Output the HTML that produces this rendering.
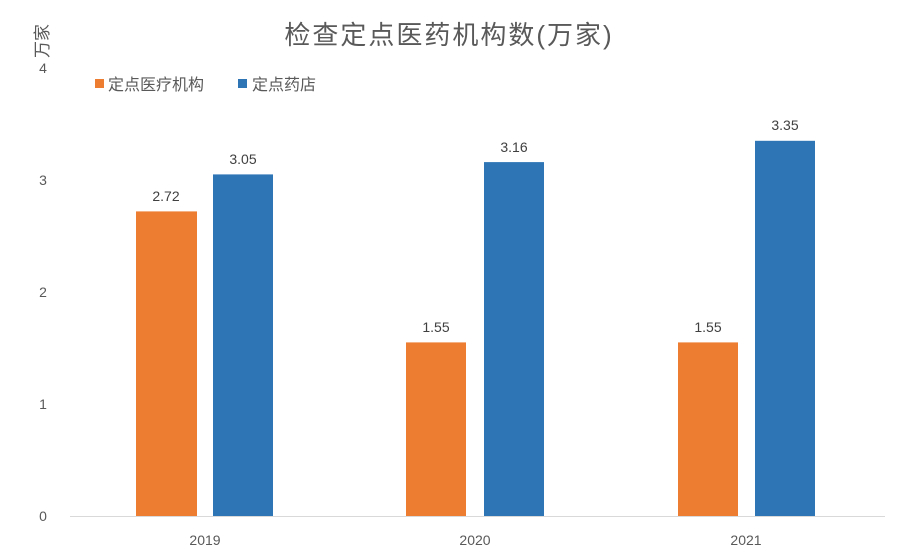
<!DOCTYPE html>
<html><head><meta charset="utf-8"><style>
body{margin:0;background:#fff;}
svg{display:block;font-family:"Liberation Sans","Noto Sans CJK SC",sans-serif;}
</style></head><body>
<svg width="904" height="558" viewBox="0 0 904 558">
<rect width="904" height="558" fill="#fff"/>
<text x="449" y="44" text-anchor="middle" font-size="26" letter-spacing="2" fill="#595959">检查定点医药机构数(万家)</text>
<text transform="translate(48,41) rotate(-90)" text-anchor="middle" font-size="17" fill="#595959">万家</text>
<g font-size="14" fill="#595959" text-anchor="middle">
<text x="43" y="73">4</text><text x="43" y="185">3</text><text x="43" y="297">2</text><text x="43" y="409">1</text><text x="43" y="521">0</text>
<text x="205" y="545">2019</text><text x="475" y="545">2020</text><text x="746" y="545">2021</text>
</g>
<rect x="95" y="79" width="9" height="9" fill="#ED7D31"/>
<text x="108" y="90" font-size="16" fill="#595959">定点医疗机构</text>
<rect x="238" y="79" width="9" height="9" fill="#2E75B6"/>
<text x="252" y="90" font-size="16" fill="#595959">定点药店</text>
<line x1="70" y1="516.5" x2="885" y2="516.5" stroke="#d9d9d9" stroke-width="1"/>
<g fill="#ED7D31">
<rect x="136" y="211.4" width="61" height="304.6"/>
<rect x="406" y="342.4" width="60" height="173.6"/>
<rect x="678" y="342.4" width="60" height="173.6"/>
</g>
<g fill="#2E75B6">
<rect x="213" y="174.4" width="60" height="341.6"/>
<rect x="484" y="162.1" width="60" height="353.9"/>
<rect x="755" y="140.8" width="60" height="375.2"/>
</g>
<g font-size="14" fill="#404040" text-anchor="middle">
<text x="166" y="201">2.72</text><text x="243" y="164">3.05</text>
<text x="436" y="332">1.55</text><text x="514" y="152">3.16</text>
<text x="708" y="332">1.55</text><text x="785" y="130">3.35</text>
</g>
</svg>
</body></html>
